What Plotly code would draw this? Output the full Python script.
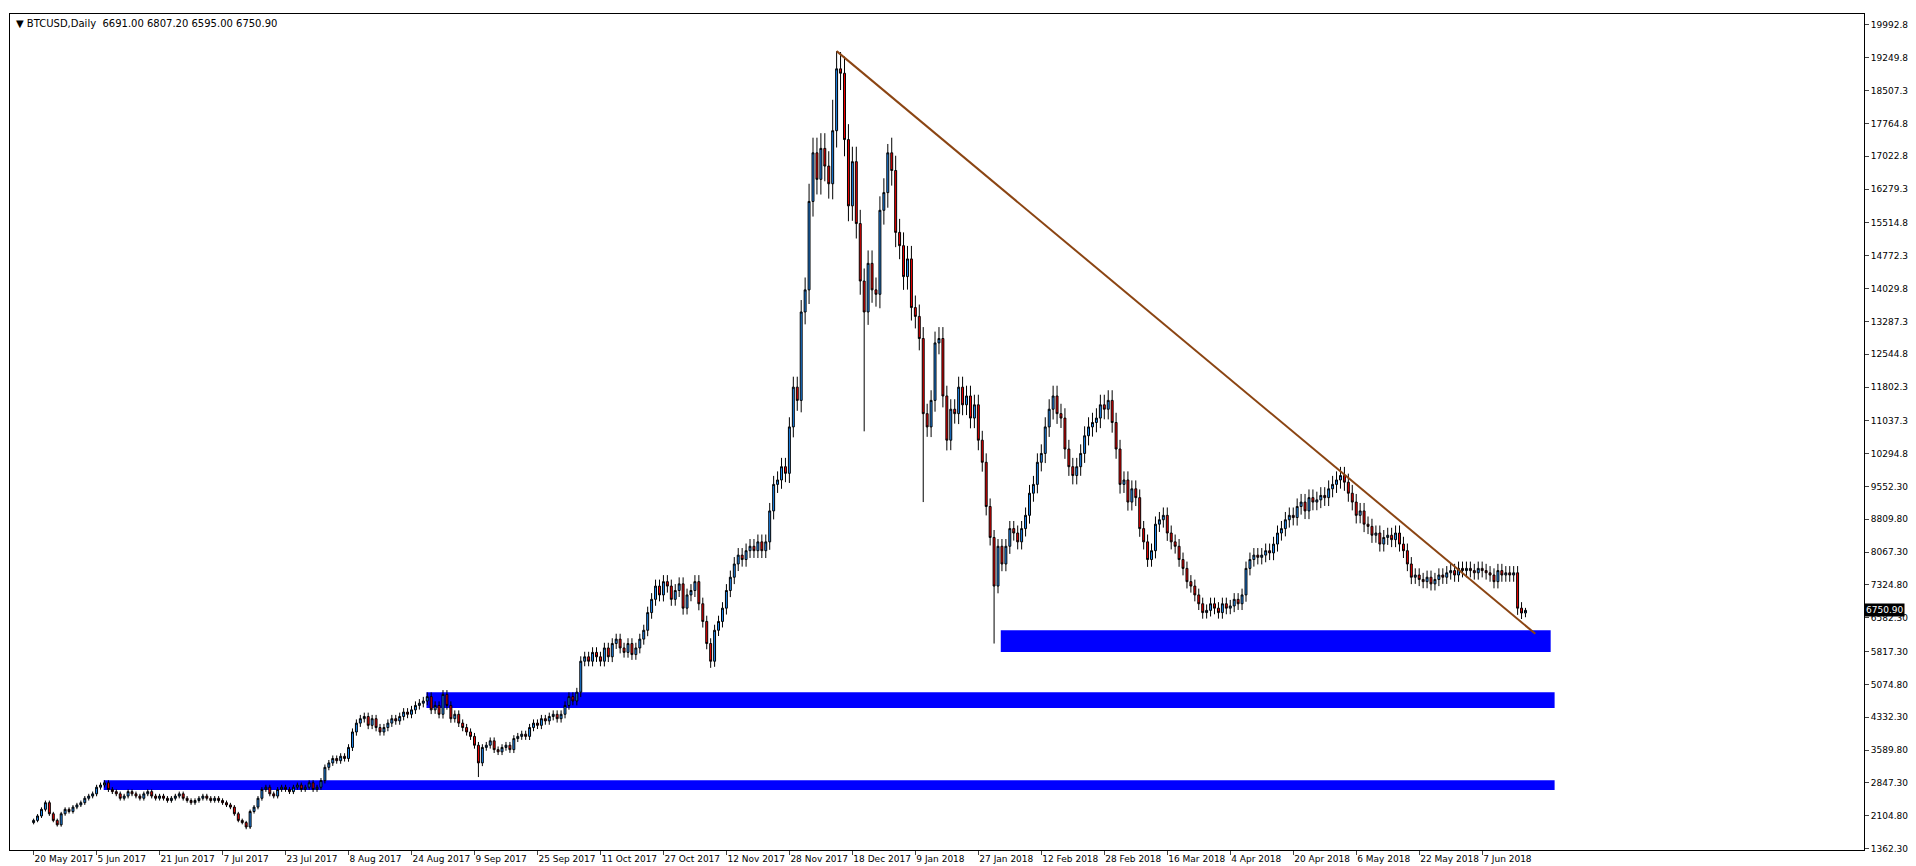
import plotly.graph_objects as go

# daily closes, one bar per trading day starting 20 May 2017
closes = [
    2000, 2100, 2250, 2400, 2150, 2000, 1900, 2150, 2250, 2200, 2300, 2350, 2400, 2500, 2550, 2600,
    2750, 2800, 2850, 2700, 2650, 2600, 2500, 2550, 2650, 2600, 2550, 2500, 2600, 2650, 2550, 2500,
    2550, 2500, 2450, 2500, 2550, 2600, 2500, 2450, 2400, 2450, 2500, 2550, 2500, 2450, 2500, 2450,
    2400, 2350, 2300, 2150, 2000, 1950, 1850, 2200, 2300, 2500, 2700, 2750, 2600, 2550, 2700, 2750,
    2700, 2650, 2750, 2800, 2700, 2750, 2850, 2700, 2750, 2900, 3200, 3300, 3400, 3350, 3450, 3400,
    3650, 4000, 4200, 4300, 4350, 4150, 4300, 4100, 4000, 4100, 4200, 4300, 4250, 4350, 4450, 4400,
    4500, 4600, 4650, 4700, 4800, 4500, 4600, 4400, 4850, 4600, 4300, 4400, 4200, 4100, 4000, 3900,
    3700, 3300, 3650, 3700, 3800, 3600, 3550, 3650, 3700, 3600, 3850, 3900, 3950, 3900, 4100, 4200,
    4150, 4300, 4250, 4350, 4400, 4300, 4400, 4600, 4800, 4700, 4900, 5600, 5700, 5600, 5800, 5700,
    5600, 5900, 5700, 6000, 6100, 5900, 5800, 6000, 5750, 5900, 6100, 6300, 6700, 7000, 7300, 7100,
    7400, 7300, 7000, 7200, 7350, 6800, 7100, 7200, 7400, 6900, 6500, 6000, 5600, 6300, 6500, 6800,
    7200, 7500, 7800, 8000, 7900, 8100, 8200, 8100, 8300, 8100, 8300, 9000, 9600, 9700, 10000, 9850,
    10900, 11800, 11500, 13500, 14000, 16000, 17100, 16500, 17200, 16800, 16400, 17600, 19000, 18900, 17400, 15900,
    16900, 15500, 14200, 13500, 14600, 14000, 13900, 15800, 16200, 17100, 16700, 15300, 15000, 14300, 14700, 13600,
    13400, 12900, 11200, 10900, 11500, 12800, 12900, 11600, 10600, 11300, 11200, 11800, 11400, 11600, 11100, 11400,
    10600, 10100, 9100, 8400, 7300, 8200, 7800, 8200, 8600, 8500, 8300, 8600, 8900, 9400, 9600, 10100,
    10300, 10900, 11300, 11600, 11200, 11100, 10400, 10000, 9800, 10000, 10300, 10700, 10900, 11000, 11100, 11400,
    11300, 11500, 11000, 10400, 9600, 9700, 9200, 9500, 9300, 8600, 8300, 7900, 8100, 8700, 8800, 8900,
    8500, 8300, 8200, 7900, 7700, 7400, 7300, 7100, 6900, 6700, 6750, 6900, 6800, 6700, 6900, 6800,
    6850, 7000, 6900, 7100, 7700, 7900, 8000, 7950, 8000, 8100, 8050, 8250, 8500, 8600, 8800, 8900,
    8850, 9100, 9200, 9000, 9300, 9200, 9250, 9350, 9300, 9500, 9600, 9700, 9800, 9650, 9400, 9200,
    8900, 9000, 8700, 8650, 8450, 8500, 8250, 8400, 8450, 8350, 8500, 8250, 8100, 7800, 7500, 7550,
    7450, 7400, 7500, 7350, 7450, 7550, 7500, 7600, 7650, 7550, 7700, 7650, 7700, 7650, 7600, 7700,
    7650, 7600, 7550, 7400, 7650, 7550, 7600, 7550, 7600, 6800, 6691, 6750.9,
]
first_open = 1950
# long wicks visible on the chart (bar index -> price)
high_spikes = {204: 19400, 203: 18300, 217: 17300, 197: 16400}
low_spikes = {113: 2980, 211: 10800, 226: 9200, 244: 6000, 172: 5450, 54: 1800}

tick_labels = [
    "20 May 2017", "5 Jun 2017", "21 Jun 2017", "7 Jul 2017", "23 Jul 2017", "8 Aug 2017",
    "24 Aug 2017", "9 Sep 2017", "25 Sep 2017", "11 Oct 2017", "27 Oct 2017", "12 Nov 2017",
    "28 Nov 2017", "18 Dec 2017", "9 Jan 2018", "27 Jan 2018", "12 Feb 2018", "28 Feb 2018",
    "16 Mar 2018", "4 Apr 2018", "20 Apr 2018", "6 May 2018", "22 May 2018", "7 Jun 2018",
]
price_ticks = [1362.30, 2104.80, 2847.30, 3589.80, 4332.30, 5074.80, 5817.30, 6582.30, 7324.80,
               8067.30, 8809.80, 9552.30, 10294.80, 11037.30, 11802.30, 12544.80, 13287.30,
               14029.80, 14772.30, 15514.80, 16279.30, 17022.80, 17764.80, 18507.30, 19249.80,
               19992.80]

# support zones (start bar, end bar, low, high)
zones = [(245.7, 385.4, 5810, 6300), (99.8, 386.4, 4540, 4900), (17.8, 386.4, 2690, 2905)]
trend_start = (204, 19400)
trend_end = (381.5, 6220)

opens = [first_open] + closes[:-1]
opens[-1] = 6691.00
highs, lows = [], []
for i, (o, c) in enumerate(zip(opens, closes)):
    w = max(o, c) * 0.02
    highs.append(high_spikes.get(i, max(o, c) + w))
    lows.append(low_spikes.get(i, min(o, c) - w))
highs[-1], lows[-1] = 6807.20, 6595.00
x = list(range(len(closes)))

fig = go.Figure(go.Candlestick(
    x=x, open=opens, high=highs, low=lows, close=closes,
    increasing=dict(fillcolor="#1E90FF", line=dict(color="black", width=1)),
    decreasing=dict(fillcolor="#FF0000", line=dict(color="black", width=1)),
    whiskerwidth=0, showlegend=False, hoverinfo="skip",
))

for x0, x1, y0, y1 in zones:
    fig.add_shape(type="rect", x0=x0, x1=x1, y0=y0, y1=y1,
                  fillcolor="#0000FF", line_width=0, layer="below")
fig.add_shape(type="line", x0=trend_start[0], y0=trend_start[1], x1=trend_end[0], y1=trend_end[1],
              line=dict(color="#8B4513", width=2))

fig.add_annotation(x=0.002, y=0.998, xref="paper", yref="paper", xanchor="left", yanchor="top",
                   text="▼ BTCUSD,Daily  6691.00 6807.20 6595.00 6750.90", showarrow=False,
                   font=dict(size=10, color="black"))
fig.add_annotation(x=1, y=closes[-1], xref="paper", yref="y", xanchor="left", yanchor="middle",
                   text="6750.90", showarrow=False, bgcolor="black",
                   font=dict(size=9, color="white"), borderpad=1)

fig.update_layout(
    width=1916, height=866,
    margin=dict(l=2, r=60, t=6, b=24),
    paper_bgcolor="white", plot_bgcolor="white",
    font=dict(family="DejaVu Sans", size=9, color="black"),
    xaxis=dict(range=[-6, 465], tickvals=[16 * k for k in range(len(tick_labels))],
               ticktext=tick_labels, ticks="outside", ticklen=4, tickangle=0, showgrid=False,
               ticklabelposition="outside right",
               showline=True, linecolor="black", mirror=True, zeroline=False,
               tickfont=dict(size=9), rangeslider=dict(visible=False)),
    yaxis=dict(range=[1330, 20240], side="right", tickvals=price_ticks,
               ticktext=[f"{v:.2f}" for v in price_ticks], ticks="outside", ticklen=4,
               showgrid=False, showline=True, linecolor="black", mirror=True, zeroline=False,
               tickfont=dict(size=9)),
)

fig.write_html("out.html")
